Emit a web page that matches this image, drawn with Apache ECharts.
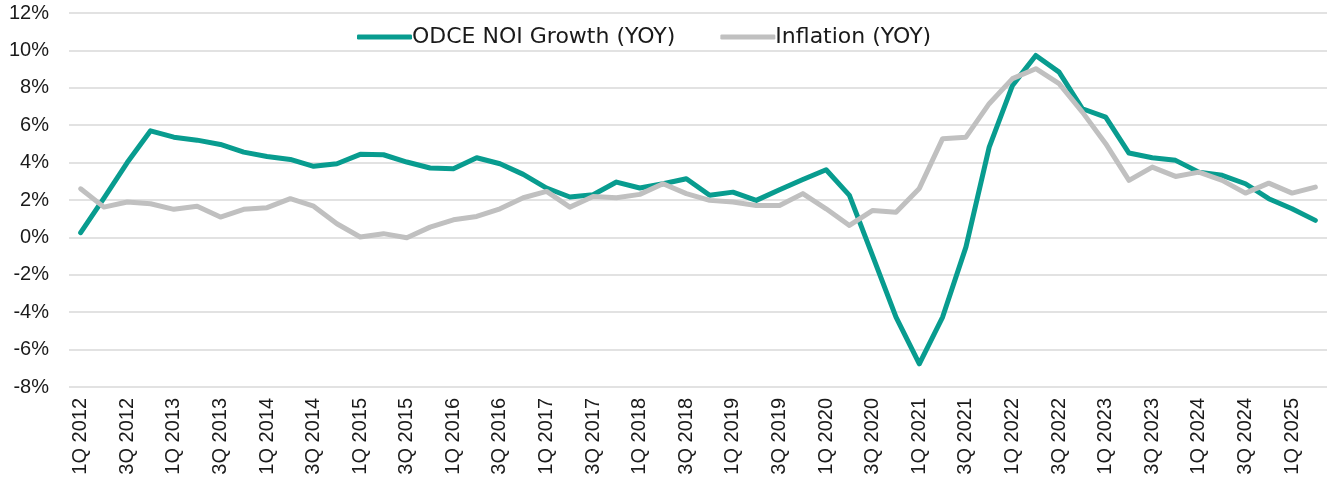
<!doctype html>
<html>
<head>
	<meta charset="utf-8">
	<title>ODCE NOI Growth vs Inflation</title>
	<script src="https://cdn.jsdelivr.net/npm/echarts@6/dist/echarts.min.js"></script>
	<style>
		html, body {margin:0;padding:0;background:#fff;}
		#main {width:1328px;height:486px;}
	</style>
</head>
<body>
	<div id="main"></div>
<script>
	"use strict";
	// quarters 1Q 2012 .. 2Q 2025
	var quarters = [];
	for (let y = 2012; y <= 2025; y++) {
		for (let q = 1; q <= 4; q++) {
			if (y === 2025 && q > 2) break;
			quarters.push(q + 'Q ' + y);
		}
	}

	// ODCE NOI growth, YOY %
	var noiGrowth = [
		0.25, 2.1, 4.0, 5.7, 5.36, 5.2, 4.97, 4.56, 4.33, 4.17,
		3.8, 3.94, 4.44, 4.42, 4.03, 3.71, 3.67, 4.26, 3.94, 3.37,
		2.64, 2.16, 2.28, 2.96, 2.64, 2.87, 3.14, 2.25, 2.42, 1.98,
		2.55, 3.1, 3.62, 2.25, -1.0, -4.26, -6.76, -4.26, -0.52, 4.83,
		8.13, 9.73, 8.84, 6.88, 6.43, 4.51, 4.26, 4.12, 3.49, 3.32,
		2.87, 2.07, 1.53, 0.91
	];

	// Inflation, YOY %
	var inflation = [
		2.6, 1.62, 1.89, 1.8, 1.5, 1.67, 1.09, 1.5, 1.59, 2.07,
		1.67, 0.73, 0.02, 0.2, -0.02, 0.55, 0.94, 1.12, 1.53, 2.12,
		2.46, 1.62, 2.19, 2.12, 2.3, 2.87, 2.34, 1.98, 1.89, 1.71,
		1.71, 2.34, 1.53, 0.64, 1.44, 1.35, 2.62, 5.28, 5.36, 7.15,
		8.49, 9.02, 8.22, 6.7, 5.01, 3.05, 3.76, 3.26, 3.49, 3.05,
		2.37, 2.9, 2.37, 2.69
	];

	var seriesNames = ['ODCE NOI Growth (YOY)', 'Inflation (YOY)'];
	var teal = '#089c8f', grey = '#c0c0c0';

	var myChart = echarts.init(document.getElementById('main'));
	myChart.setOption({
		animation: false,
		textStyle: {fontFamily: 'Liberation Sans'},
		grid: {left: 69, right: 1, top: 13, bottom: 99},
		legend: {
			data: seriesNames,
			left: 352,
			top: 21,
			icon: 'roundRect',
			itemWidth: 55,
			itemHeight: 5,
			itemGap: 45,
			textStyle: {fontFamily: 'DejaVu Sans', fontSize: 22, color: '#1a1a1a', padding: [0, 0, 0, -5]}
		},
		xAxis: {
			type: 'category',
			data: quarters,
			boundaryGap: true,
			axisLine: {show: false},
			axisTick: {show: false},
			axisLabel: {
				interval: 1,
				rotate: 90,
				margin: 11,
				fontSize: 20,
				color: '#1a1a1a'
			}
		},
		yAxis: {
			type: 'value',
			min: -8,
			max: 12,
			interval: 2,
			axisLabel: {formatter: '{value}%', fontSize: 20, margin: 20, color: '#1a1a1a'},
			splitLine: {lineStyle: {color: '#d9d9d9', width: 1.5}}
		},
		series: [{
			name: seriesNames[0],
			type: 'line',
			data: noiGrowth,
			symbol: 'none',
			color: teal,
			lineStyle: {width: 5, color: teal, cap: 'round', join: 'round'}
		}, {
			name: seriesNames[1],
			type: 'line',
			data: inflation,
			symbol: 'none',
			color: grey,
			lineStyle: {width: 5, color: grey, cap: 'round', join: 'round'}
		}]
	});
</script>
</body>
</html>
